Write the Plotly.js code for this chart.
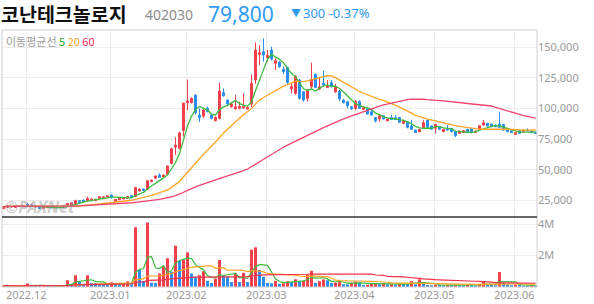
<!DOCTYPE html>
<html>
<head>
<meta charset="utf-8">
<script src="https://cdn.plot.ly/plotly-3.0.1.min.js"></script>
<style>
html,body{margin:0;padding:0;background:#fff;}
#chart{width:594px;height:304px;}
</style>
</head>
<body>
<div id="chart"></div>
<script>
// ---- data ----
const openP = [
18200,19300,19500,19200,20300,20100,21800,21300,19600,19300,
18500,18900,19300,18900,19300,19100,21000,21200,22000,24700,
25200,24700,24700,24700,26600,26300,27100,29300,24200,25500,
26100,26600,28800,28000,32600,34200,33900,40200,42900,45600,
44300,46000,55000,68500,67500,82000,104500,104600,110800,94500,
93700,100000,94500,89900,91800,112800,106800,101300,99500,100000,
100500,99400,103500,123100,144000,146200,141500,147500,136700,137800,
131800,133400,115800,112200,123100,113600,108100,117600,127700,115700,
120400,117100,120900,113500,114100,106800,105400,101300,100000,105500,
99200,100000,97300,92600,91300,94000,89900,92600,92400,92600,
87800,89100,85600,82300,81000,84200,90500,85600,83700,85000,
81000,83700,83700,81000,79600,80200,82900,83400,80400,83100,
86400,87800,87200,86400,87200,86900,82300,81800,78800,81800,
81000,82300,81500,80500
];
const highP = [
20000,20800,20400,20600,20800,20600,22600,21600,20500,19600,
19300,19600,19500,19500,19400,20100,22800,23300,25500,25000,
25600,28000,26600,26300,28300,28200,29000,29800,26000,27200,
27500,28300,29300,35600,35000,34800,41500,42000,45200,47000,
46000,53500,67500,76500,81000,104500,123500,109000,111500,100000,
100000,101500,95000,93500,121000,116300,107500,105000,110900,105400,
112200,102000,127700,153800,151600,157000,147500,150300,140800,138500,
134000,134000,120400,127000,124000,114000,115500,137200,128500,125800,
130700,123100,123100,120000,115000,107500,106000,102000,106800,106500,
101500,100500,98500,93000,94500,94500,91800,94500,94500,93000,
90500,89500,90500,82600,83200,90500,91000,86000,87500,85500,
83200,86400,84000,81200,81800,82200,83200,83800,81800,86200,
90500,88200,87500,86800,97300,87200,82600,82000,80400,82000,
82600,83700,81800,80800
];
const lowP = [
18000,19000,19200,19000,19900,19800,20900,20500,19300,18200,
18300,18700,18700,18800,18800,19000,20700,21000,21800,23000,
23600,24400,24400,24500,26300,26100,26900,26300,24000,25200,
25900,26400,27100,27800,32000,32500,33500,39800,42500,43400,
44000,45500,54500,62000,66500,77000,98500,104000,95000,89000,
92000,96800,91000,89500,91000,109500,103000,100500,99000,99200,
99500,99000,101000,120000,135300,138000,138000,139000,131300,133000,
127700,119000,112200,110900,107500,105400,105400,116300,116500,114900,
117600,116500,117000,112500,106000,104000,100000,99000,98600,99500,
98600,95000,94000,88500,89000,91000,89500,90500,90500,88000,
87500,83600,82300,80000,80500,84000,84000,82500,79600,82500,
80500,82000,80500,76500,79300,80000,80000,80000,80200,82800,
86000,85200,84800,84800,84000,81800,80800,80000,78500,79300,
80800,81500,79900,79400
];
const closeP = [
19800,20500,20000,20300,20100,20400,21200,20800,20200,18400,
19100,19300,18900,19300,19000,19900,22500,23000,24700,23400,
23900,26600,26000,25800,27900,27900,28700,27400,25800,26900,
27100,27900,27400,35500,33900,32900,41000,41500,44800,43700,
45600,53000,67000,70000,80000,104300,106000,108100,96500,92600,
98600,97300,91800,92600,114100,110300,103500,103500,101300,101600,
102000,100800,120400,147500,145400,143500,143200,140200,138900,134000,
129900,121200,117600,126300,108100,106800,114900,123600,117100,117600,
119000,118500,117600,118000,107600,104600,101900,99500,105400,100000,
100800,95400,94500,89900,94000,91300,91300,91000,91000,88600,
89900,84500,82900,80200,82900,88300,84500,82900,86900,82900,
82900,82300,81000,77800,81500,81800,80200,80200,81500,85900,
88300,85600,85000,85000,84500,82300,81000,80200,80200,79600,
82300,81800,80100,79800
];
const volumeK = [
90,70,60,80,50,60,220,90,80,60,
70,50,60,55,60,110,430,200,750,320,
210,750,260,250,180,170,160,300,170,160,
210,360,170,3800,1080,390,4100,270,250,860,
1330,1830,970,2620,1660,1720,2200,860,650,750,
1000,390,260,540,1720,750,650,320,900,320,
900,320,2370,2520,1080,650,260,240,390,200,
240,370,320,490,370,390,800,1030,260,370,
480,430,260,280,370,180,170,260,340,300,
130,140,220,230,180,220,170,180,150,200,
190,180,370,170,490,200,130,110,140,120,
100,130,110,140,110,100,130,110,90,200,
370,180,140,110,950,280,170,110,150,120,
80,70,90,80
];
const monthStartIdx = [6, 27, 46, 66, 88, 108, 128];
const monthLabels = ['2022.12','2023.01','2023.02','2023.03','2023.04','2023.05','2023.06'];
const priceTicks = [25000, 50000, 75000, 100000, 125000, 150000];
const volTicks = [2000000, 4000000];
const volTickLabels = ['2M', '4M'];
const maPeriods = [5, 20, 60];

// ---- styling ----
const UP = '#f2414d', DOWN = '#2b8ef0';
const MA_COLORS = ['#3dbb3d', '#ffa424', '#f2456e'];
const VMA_COLORS = ['#3dbb3d', '#ffa424', '#f23048'];
const GRID = '#ececec';
const FONT = 'Noto Sans, Noto Sans CJK KR, sans-serif';

const idx = closeP.map((_, i) => i);
const volume = volumeK.map(v => v * 1000);
function ma(arr, p) {
  return arr.map((_, i) => {
    const s = Math.max(0, i - p + 1);
    let t = 0;
    for (let k = s; k <= i; k++) t += arr[k];
    return t / (i - s + 1);
  });
}
const volColors = volume.map((v, i) => (i === 0 || v >= volume[i - 1]) ? UP : DOWN);

const traces = [{
  type: 'candlestick', x: idx, open: openP, high: highP, low: lowP, close: closeP,
  xaxis: 'x', yaxis: 'y',
  increasing: {line: {color: UP, width: 1}, fillcolor: UP},
  decreasing: {line: {color: DOWN, width: 1}, fillcolor: DOWN},
  whiskerwidth: 0, hoverinfo: 'skip', showlegend: false
}];
maPeriods.forEach((p, k) => traces.push({
  type: 'scatter', mode: 'lines', x: idx, y: ma(closeP, p), xaxis: 'x', yaxis: 'y',
  line: {color: MA_COLORS[k], width: 1.3}, hoverinfo: 'skip', showlegend: false
}));
traces.push({
  type: 'bar', x: idx, y: volume, xaxis: 'x2', yaxis: 'y2',
  marker: {color: volColors, line: {width: 0}}, hoverinfo: 'skip', showlegend: false
});
maPeriods.forEach((p, k) => traces.push({
  type: 'scatter', mode: 'lines', x: idx, y: ma(volume, p), xaxis: 'x2', yaxis: 'y2',
  line: {color: VMA_COLORS[k], width: 1.2}, hoverinfo: 'skip', showlegend: false
}));

const W = 594, H = 304, ML = 2, MR = 57, MT = 30, MB = 17;
const PW = W - ML - MR, PH = H - MT - MB;
const split = 70 / PH;
const px = x => (x - ML) / PW;
const py = y => (H - MB - y) / PH;
const xr = [-0.375, -0.375 + PW / 4];
const tickPos = monthStartIdx.map(i => i - 0.3);

const ann = (x, y, text, size, color, extra) => Object.assign({
  xref: 'paper', yref: 'paper', x: px(x), y: py(y), text: text, showarrow: false,
  xanchor: 'left', yanchor: 'middle', borderpad: 0,
  font: {family: FONT, size: size, color: color}
}, extra || {});

const layout = {
  width: W, height: H, margin: {l: ML, r: MR, t: MT, b: MB},
  paper_bgcolor: '#fff', plot_bgcolor: '#fff', showlegend: false,
  font: {family: FONT}, boxgap: 0.3, bargap: 0.25,
  xaxis: {domain: [0, 1], range: xr, anchor: 'y', tickvals: tickPos, showticklabels: false,
    showgrid: true, gridcolor: GRID, zeroline: false, showline: false, ticks: '',
    rangeslider: {visible: false}, fixedrange: true},
  xaxis2: {domain: [0, 1], range: xr, anchor: 'y2', tickvals: tickPos, ticktext: monthLabels,
    showgrid: true, gridcolor: GRID, zeroline: false, showline: false, ticks: '',
    tickfont: {size: 11, color: '#9a9a9a', family: FONT}, fixedrange: true},
  yaxis: {domain: [split, 1], range: [11400, 163900], side: 'right', anchor: 'x',
    tickvals: priceTicks, ticktext: priceTicks.map(v => v.toLocaleString('en-US')),
    tickfont: {size: 11, color: '#9a9a9a', family: FONT}, showgrid: true, gridcolor: GRID,
    zeroline: false, showline: false, ticks: '', fixedrange: true},
  yaxis2: {domain: [0, split], range: [0, 4450000], side: 'right', anchor: 'x2',
    tickvals: volTicks, ticktext: volTickLabels,
    tickfont: {size: 11, color: '#9a9a9a', family: FONT}, showgrid: true, gridcolor: GRID,
    zeroline: false, showline: false, ticks: '', fixedrange: true},
  shapes: [
    {type: 'rect', xref: 'paper', yref: 'paper', x0: 0, x1: 1, y0: 0, y1: 1,
     line: {color: '#cfcfcf', width: 1}},
    {type: 'line', xref: 'paper', yref: 'paper', x0: 0, x1: 1, y0: split, y1: split,
     line: {color: '#333', width: 1.5}}
  ],
  annotations: [
    ann(0, 13.5, '<b>코난테크놀로지</b>', 19.5, '#111', {font: {family: 'Noto Sans CJK KR, sans-serif', size: 19.5, color: '#111'}}),
    ann(144, 14, '402030', 14, '#8c8c8c'),
    ann(207, 14, '79,800', 21, '#2f9af2'),
    ann(290, 13, '▼', 10, '#2f9af2'),
    ann(302, 13, '300 -0.37%', 13, '#2f9af2'),
    ann(5, 41, '이동평균선 <span style="color:#22aa22">5</span> <span style="color:#ffa31a">20</span> <span style="color:#f0285a">60</span>', 11, '#9a9a9a',
        {font: {family: 'Noto Sans CJK KR, Noto Sans, sans-serif', size: 11, color: '#9a9a9a'}}),
    ann(4, 207, '<b><i>©PAXNet</i></b>', 16, 'rgba(140,140,140,0.45)')
  ]
};

Plotly.newPlot('chart', traces, layout, {displayModeBar: false, staticPlot: true});
</script>
</body>
</html>
